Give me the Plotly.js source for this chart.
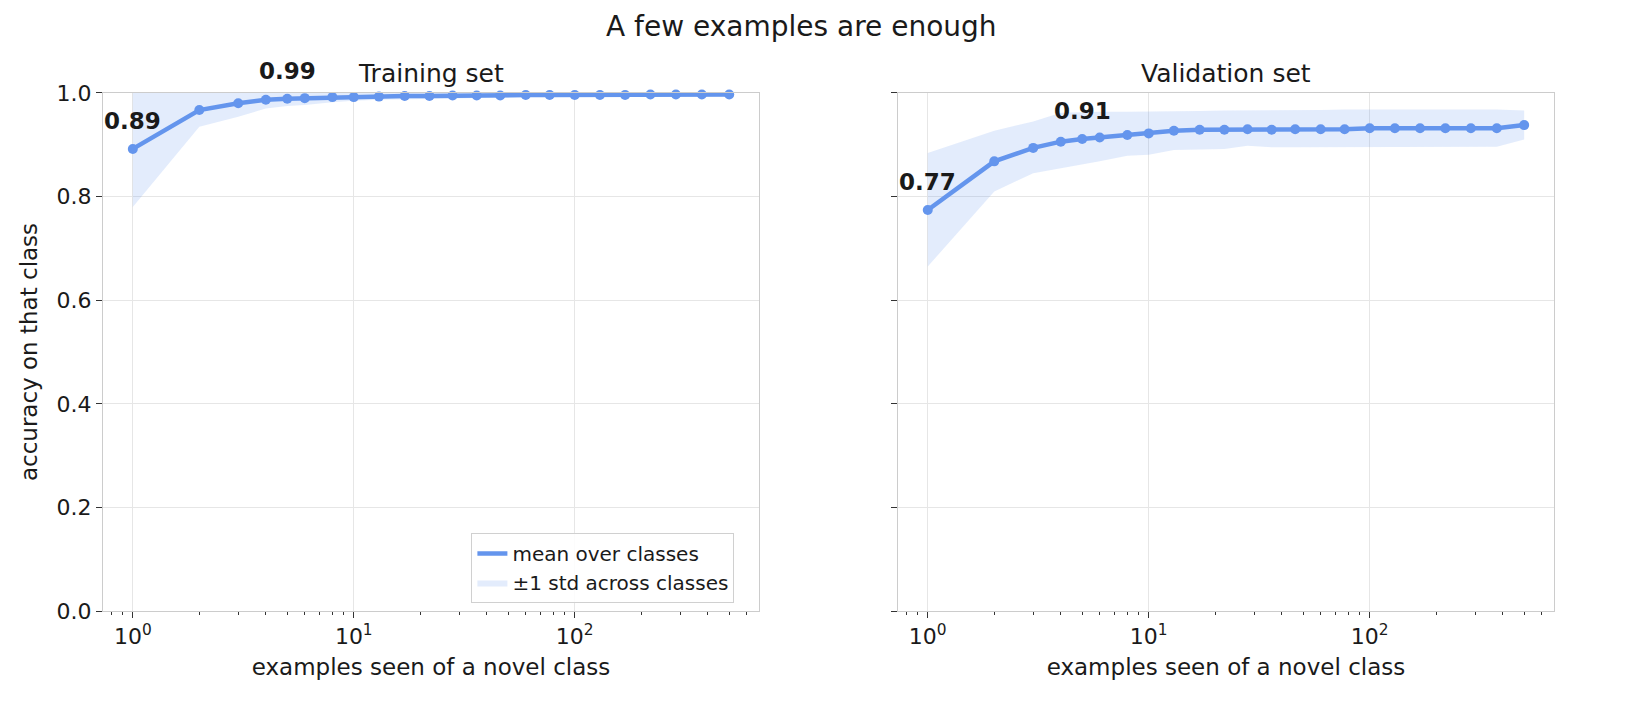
<!DOCTYPE html>
<html>
<head>
<meta charset="utf-8">
<script src="https://cdn.plot.ly/plotly-3.0.1.min.js"></script>
<style>
  html, body { margin: 0; padding: 0; background: #fff; }
  #chart { width: 1632px; height: 723px; }
</style>
</head>
<body>
<div id="chart"></div>
<script>
/* global Plotly */
const COUNTS = [1, 2, 3, 4, 5, 6, 8, 10, 13, 17, 22, 28, 36, 46, 60, 77, 100, 130, 169, 220, 287, 376, 500];

const TRAIN_MEAN = [0.892, 0.967, 0.980, 0.987, 0.989, 0.990, 0.992, 0.992, 0.993, 0.994, 0.994, 0.995,
  0.995, 0.995, 0.996, 0.996, 0.996, 0.996, 0.996, 0.997, 0.997, 0.997, 0.997];
const TRAIN_LOWER = [0.780, 0.935, 0.954, 0.970, 0.975, 0.977, 0.982, 0.985, 0.987, 0.988, 0.989, 0.990,
  0.991, 0.991, 0.992, 0.992, 0.993, 0.993, 0.993, 0.994, 0.994, 0.994, 0.995];
const TRAIN_UPPER = [1.0, 1.0, 1.0, 1.0, 1.0, 1.0, 1.0, 1.0, 1.0, 1.0, 1.0, 1.0,
  1.0, 1.0, 1.0, 1.0, 1.0, 1.0, 1.0, 1.0, 1.0, 1.0, 1.0];

const VAL_MEAN = [0.774, 0.868, 0.894, 0.906, 0.911, 0.914, 0.919, 0.922, 0.927, 0.929, 0.929, 0.930,
  0.929, 0.930, 0.930, 0.930, 0.932, 0.932, 0.932, 0.932, 0.932, 0.932, 0.938];
const VAL_LOWER = [0.665, 0.810, 0.845, 0.854, 0.861, 0.868, 0.879, 0.881, 0.890, 0.891, 0.892, 0.898,
  0.895, 0.895, 0.895, 0.895, 0.895, 0.895, 0.895, 0.896, 0.896, 0.896, 0.910];
const VAL_UPPER = [0.884, 0.927, 0.945, 0.962, 0.963, 0.964, 0.964, 0.964, 0.965, 0.965, 0.966, 0.966,
  0.967, 0.967, 0.967, 0.968, 0.968, 0.968, 0.968, 0.968, 0.968, 0.968, 0.966];

// counts that get a bold value label above the point
const LABELLED_COUNTS = [1, 5];

const X_TICKS = [1, 10, 100];
const X_TICK_TEXT = ['10<sup>0</sup>', '10<sup>1</sup>', '10<sup>2</sup>'];
const X_MINOR = [0.8, 0.9, 2, 3, 4, 5, 6, 7, 8, 9, 20, 30, 40, 50, 60, 70, 80, 90, 200, 300, 400, 500, 600];
const Y_TICKS = [0, 0.2, 0.4, 0.6, 0.8, 1.0];

const BLUE = '#6495ed';
const BAND = 'rgba(100,149,237,0.18)';
const FONT = 'DejaVu Sans, sans-serif';
const TEXT = '#1a1a1a';

function panelTraces(mean, lower, upper, xa, ya, showLegend) {
  return [
    {x: COUNTS, y: lower, xaxis: xa, yaxis: ya, type: 'scatter', mode: 'lines',
      line: {width: 0, color: BAND}, showlegend: false, hoverinfo: 'skip'},
    {x: COUNTS, y: upper, xaxis: xa, yaxis: ya, type: 'scatter', mode: 'lines',
      line: {width: 0, color: BAND}, fill: 'tonexty', fillcolor: BAND,
      name: '±1 std across classes', showlegend: showLegend, legendrank: 2},
    {x: COUNTS, y: mean, xaxis: xa, yaxis: ya, type: 'scatter', mode: 'lines',
      line: {width: 4.5, color: BLUE},
      name: 'mean over classes', showlegend: showLegend, legendrank: 1, cliponaxis: false},
    {x: COUNTS, y: mean, xaxis: xa, yaxis: ya, type: 'scatter', mode: 'markers',
      marker: {size: 10, color: BLUE}, showlegend: false, cliponaxis: false}
  ];
}

function valueLabels(mean, xa, ya) {
  return LABELLED_COUNTS.map(function (c) {
    const v = mean[COUNTS.indexOf(c)];
    return {x: Math.log10(c), y: v, xref: xa, yref: ya, text: '<b>' + v.toFixed(2) + '</b>',
      showarrow: false, yshift: 28, font: {family: FONT, size: 23, color: TEXT}};
  });
}

function xAxis(domain) {
  return {
    domain: domain, type: 'log', range: [-0.135, 2.834],
    tickmode: 'array', tickvals: X_TICKS, ticktext: X_TICK_TEXT,
    ticks: 'outside', ticklen: 6, tickcolor: '#333', tickwidth: 1,
    minor: {tickmode: 'array', tickvals: X_MINOR, ticks: 'outside', ticklen: 3,
      tickcolor: '#333', showgrid: false},
    showgrid: true, gridcolor: '#e6e6e6', gridwidth: 1,
    showline: true, mirror: true, linecolor: '#cccccc', linewidth: 1,
    zeroline: false,
    tickfont: {family: FONT, size: 22, color: TEXT},
    title: {text: 'examples seen of a novel class', standoff: 10,
      font: {family: FONT, size: 23, color: TEXT}}
  };
}

function yAxis(showLabels, anchor) {
  const ax = {
    domain: [0.1549, 0.8714], range: [0, 1], anchor: anchor,
    tickmode: 'array', tickvals: Y_TICKS, ticktext: Y_TICKS.map(function (t) { return t.toFixed(1); }),
    showticklabels: showLabels,
    ticks: 'outside', ticklen: 6, tickcolor: '#333', tickwidth: 1,
    showgrid: true, gridcolor: '#e6e6e6', gridwidth: 1,
    showline: true, mirror: true, linecolor: '#cccccc', linewidth: 1,
    zeroline: false,
    tickfont: {family: FONT, size: 22, color: TEXT}
  };
  if (showLabels) {
    ax.title = {text: 'accuracy on that class', standoff: 12,
      font: {family: FONT, size: 23, color: TEXT}};
  }
  return ax;
}

const data = [].concat(
  panelTraces(TRAIN_MEAN, TRAIN_LOWER, TRAIN_UPPER, 'x', 'y', true),
  panelTraces(VAL_MEAN, VAL_LOWER, VAL_UPPER, 'x2', 'y2', false)
);

const annotations = [
  {text: 'Training set', xref: 'x domain', yref: 'y domain', x: 0.5, y: 1, yanchor: 'bottom',
    yshift: 3, showarrow: false, font: {family: FONT, size: 25, color: TEXT}},
  {text: 'Validation set', xref: 'x2 domain', yref: 'y2 domain', x: 0.5, y: 1, yanchor: 'bottom',
    yshift: 3, showarrow: false, font: {family: FONT, size: 25, color: TEXT}}
].concat(valueLabels(TRAIN_MEAN, 'x', 'y'), valueLabels(VAL_MEAN, 'x2', 'y2'));

const layout = {
  width: 1632, height: 723,
  margin: {l: 0, r: 0, t: 0, b: 0},
  paper_bgcolor: '#ffffff', plot_bgcolor: '#ffffff',
  font: {family: FONT, color: TEXT},
  title: {text: 'A few examples are enough', x: 0.491, xanchor: 'center', y: 0.964, yanchor: 'middle',
    font: {family: FONT, size: 28, color: TEXT}},
  xaxis: xAxis([0.0631, 0.4651]),
  xaxis2: xAxis([0.5502, 0.9522]),
  yaxis: yAxis(true, 'x'),
  yaxis2: yAxis(false, 'x2'),
  showlegend: true,
  legend: {x: 0.450, y: 0.166, xanchor: 'right', yanchor: 'bottom', traceorder: 'normal',
    bgcolor: 'rgba(255,255,255,0.85)', bordercolor: '#d0d0d0', borderwidth: 1,
    font: {family: FONT, size: 20, color: TEXT}, tracegroupgap: 0},
  annotations: annotations
};

Plotly.newPlot('chart', data, layout, {staticPlot: true, displayModeBar: false});
</script>
</body>
</html>
